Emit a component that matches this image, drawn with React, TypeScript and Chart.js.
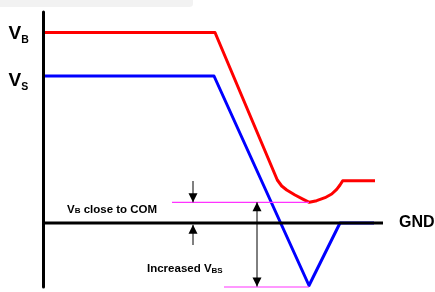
import React, { useEffect, useRef } from "react";
import { Chart, registerables } from "chart.js";

Chart.register(...registerables);

// Diagram coordinate system: time (x) and voltage relative to GND (y)
const X_MIN = 0;
const X_MAX = 435;
const Y_MIN = -69;
const Y_MAX = 223;

// VB (red) waveform
const vbTime = [44, 215, 277.3, 281.7, 286.7, 295, 303.3, 309.3, 316.7, 325, 331.7, 336.7, 340, 342.7, 375];
const vbVolt = [190.5, 190.5, 43, 37, 33, 28, 23.7, 20.7, 22.3, 25.3, 29, 33.7, 38, 42.3, 42.3];

// VS (blue) waveform
const vsTime = [44, 214, 309, 340, 374];
const vsVolt = [147, 147, -62.5, 0, 0];

// GND reference and vertical axis
const gndTime = [44, 383];
const gndVolt = [0, 0];
const axisTime = [43.5, 43.5];
const axisVolt = [211, -64];

// Magenta markers: VB minimum and VS minimum
const vbMinTime = [172, 309];
const vbMinVolt = [20.7, 20.7];
const vsMinTime = [224, 309];
const vsMinVolt = [-64, -64];

// Arrows: [x, from, to]
const arrowX = [193, 193, 257];
const arrowFrom = [42, -22, 20.7];
const arrowTo = [20.7, -1.8, -63.5];
const arrowDouble = [false, false, true];

const COLOR_RED = "#ff0000";
const COLOR_BLUE = "#0000ff";
const COLOR_MAGENTA = "#ff33ff";
const FONT = "'Liberation Sans', Arial, sans-serif";

function pts(xs: number[], ys: number[]) {
  return xs.map((x, i) => ({ x, y: ys[i] }));
}

function drawSub(
  ctx: CanvasRenderingContext2D,
  x: number,
  y: number,
  main: string,
  sub: string,
  rest: string,
  mainSize: number,
  subSize: number,
  drop: number
) {
  ctx.textBaseline = "alphabetic";
  ctx.textAlign = "left";
  ctx.font = `bold ${mainSize}px ${FONT}`;
  ctx.fillText(main, x, y);
  let cx = x + ctx.measureText(main).width;
  ctx.font = `bold ${subSize}px ${FONT}`;
  ctx.fillText(sub, cx, y + drop);
  cx += ctx.measureText(sub).width;
  if (rest) {
    ctx.font = `bold ${mainSize}px ${FONT}`;
    ctx.fillText(rest, cx, y);
  }
}

const overlay = {
  id: "overlay",
  beforeDraw(chart: any) {
    const ctx = chart.ctx as CanvasRenderingContext2D;
    ctx.save();
    ctx.fillStyle = "#ffffff";
    ctx.fillRect(0, 0, chart.width, chart.height);
    ctx.fillStyle = "#f2f2f2";
    ctx.beginPath();
    ctx.moveTo(0, 0);
    ctx.lineTo(193, 0);
    ctx.lineTo(193, 4);
    ctx.quadraticCurveTo(193, 7, 189, 7);
    ctx.lineTo(0, 7);
    ctx.closePath();
    ctx.fill();
    ctx.restore();
  },
  afterDatasetsDraw(chart: any) {
    const ctx = chart.ctx as CanvasRenderingContext2D;
    const xs = chart.scales.x;
    const ys = chart.scales.y;
    ctx.save();
    ctx.fillStyle = "#000000";
    const head = (px: number, tip: number, dir: number) => {
      ctx.beginPath();
      ctx.moveTo(px, tip);
      ctx.lineTo(px - 4.5, tip - dir * 9);
      ctx.lineTo(px + 4.5, tip - dir * 9);
      ctx.closePath();
      ctx.fill();
    };
    arrowX.forEach((ax, i) => {
      const px = xs.getPixelForValue(ax);
      const p1 = ys.getPixelForValue(arrowFrom[i]);
      const p2 = ys.getPixelForValue(arrowTo[i]);
      ctx.strokeStyle = "#000000";
      ctx.lineWidth = 1;
      ctx.beginPath();
      ctx.moveTo(px, p1);
      ctx.lineTo(px, p2);
      ctx.stroke();
      head(px, p2, Math.sign(p2 - p1));
      if (arrowDouble[i]) head(px, p1, Math.sign(p1 - p2));
    });

    // Labels
    ctx.fillStyle = "#000000";
    drawSub(ctx, xs.getPixelForValue(8.5), ys.getPixelForValue(184), "V", "B", "", 19, 10.5, 3.5);
    drawSub(ctx, xs.getPixelForValue(8.5), ys.getPixelForValue(137), "V", "S", "", 19, 10.5, 3.5);
    drawSub(ctx, xs.getPixelForValue(67), ys.getPixelForValue(10.5), "V", "B", " close to COM", 11.5, 8, 0);
    drawSub(ctx, xs.getPixelForValue(147), ys.getPixelForValue(-49), "Increased V", "BS", "", 11.5, 8, 0.5);
    ctx.font = `bold 16px ${FONT}`;
    ctx.textAlign = "left";
    ctx.fillText("GND", xs.getPixelForValue(399), ys.getPixelForValue(-4));
    ctx.restore();
  },
};

export default function App() {
  const ref = useRef<HTMLCanvasElement | null>(null);
  useEffect(() => {
    document.body.style.margin = "0";
    document.body.style.overflow = "hidden";
    if (!ref.current) return;
    const line = (data: any[], color: string, width: number) => ({
      data,
      showLine: true,
      borderColor: color,
      backgroundColor: color,
      borderWidth: width,
      pointRadius: 0,
      tension: 0,
      fill: false,
      borderJoinStyle: "round" as const,
    });
    const chart = new Chart(ref.current, {
      type: "scatter",
      data: {
        datasets: [
          line(pts(vbMinTime, vbMinVolt), COLOR_MAGENTA, 1.2),
          line(pts(vsMinTime, vsMinVolt), COLOR_MAGENTA, 1.2),
          line(pts(axisTime, axisVolt), "#000000", 3),
          line(pts(gndTime, gndVolt), "#000000", 3),
          line(pts(vbTime, vbVolt), COLOR_RED, 3),
          line(pts(vsTime, vsVolt), COLOR_BLUE, 3),
        ],
      },
      options: {
        animation: false,
        responsive: false,
        devicePixelRatio: 1,
        layout: { padding: 0 },
        events: [],
        plugins: {
          legend: { display: false },
          tooltip: { enabled: false },
          title: { display: false },
        },
        scales: {
          x: { type: "linear", min: X_MIN, max: X_MAX, display: false },
          y: { type: "linear", min: Y_MIN, max: Y_MAX, display: false },
        },
      },
      plugins: [overlay],
    });
    return () => chart.destroy();
  }, []);
  return (
    <div style={{ width: 435, height: 292, position: "relative" }}>
      <canvas ref={ref} width={435} height={292} style={{ display: "block" }} />
    </div>
  );
}
